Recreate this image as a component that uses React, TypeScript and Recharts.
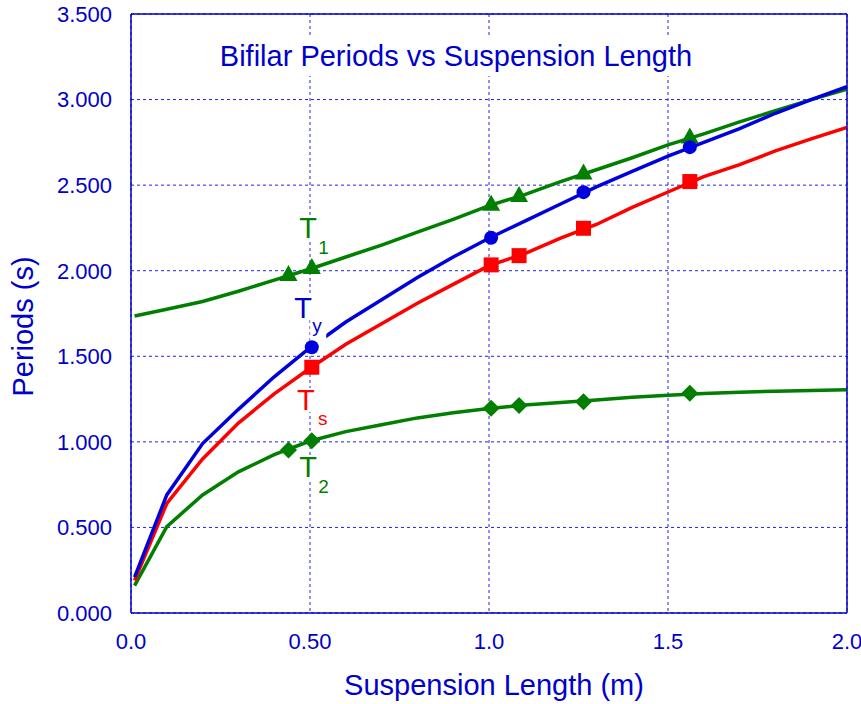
import React from 'react';
import {
  ComposedChart,
  Line,
  Scatter,
  XAxis,
  YAxis,
  CartesianGrid,
  ReferenceDot,
} from 'recharts';

// ---------- data ----------
const LINE_X = [0.01, 0.1, 0.2, 0.3, 0.4, 0.5, 0.6, 0.7, 0.8, 0.9, 1.0, 1.1, 1.2, 1.3, 1.4, 1.5, 1.6, 1.7, 1.8, 1.9, 2.0];
const TY_LINE = [0.21, 0.69, 0.99, 1.19, 1.38, 1.55, 1.70, 1.83, 1.96, 2.08, 2.19, 2.29, 2.39, 2.49, 2.58, 2.67, 2.75, 2.83, 2.92, 3.0, 3.076];
const TS_LINE = [0.19, 0.64, 0.90, 1.11, 1.28, 1.43, 1.57, 1.69, 1.81, 1.92, 2.03, 2.10, 2.19, 2.27, 2.37, 2.46, 2.55, 2.62, 2.70, 2.77, 2.837];
const T1_LINE = [1.735, 1.775, 1.82, 1.88, 1.945, 2.01, 2.08, 2.15, 2.225, 2.30, 2.38, 2.445, 2.52, 2.59, 2.66, 2.735, 2.80, 2.87, 2.935, 3.0, 3.06];
const T2_LINE = [0.16, 0.505, 0.69, 0.825, 0.925, 1.005, 1.06, 1.10, 1.14, 1.17, 1.195, 1.215, 1.23, 1.245, 1.26, 1.272, 1.283, 1.29, 1.296, 1.30, 1.305];

const MARK_X = [0.44, 0.505, 1.006, 1.084, 1.264, 1.561];
const T1_MARK = [1.975, 2.016, 2.385, 2.437, 2.568, 2.778];
const T2_MARK = [0.953, 1.007, 1.196, 1.212, 1.235, 1.284];
const TS_MARK_X = [0.505, 1.006, 1.084, 1.264, 1.561];
const TS_MARK = [1.436, 2.034, 2.088, 2.248, 2.521];
const TY_MARK_X = [0.505, 1.006, 1.264, 1.561];
const TY_MARK = [1.553, 2.193, 2.459, 2.722];

const X_TICKS = [0, 0.5, 1.0, 1.5, 2.0];
const X_TICK_LABELS = ['0.0', '0.50', '1.0', '1.5', '2.0'];
const X_MINOR_TICKS = [0, 0.1, 0.2, 0.3, 0.4, 0.5, 0.6, 0.7, 0.8, 0.9, 1.0, 1.1, 1.2, 1.3, 1.4, 1.5, 1.6, 1.7, 1.8, 1.9, 2.0];
const Y_TICKS = [0, 0.5, 1.0, 1.5, 2.0, 2.5, 3.0, 3.5];
const Y_TICK_LABELS = ['0.000', '0.500', '1.000', '1.500', '2.000', '2.500', '3.000', '3.500'];

const TITLE = 'Bifilar Periods vs Suspension Length';
const X_LABEL = 'Suspension Length (m)';
const Y_LABEL = 'Periods (s)';

const BLUE = '#0000CC';
const GRID_BLUE = '#2222DD';
const LINE_BLUE = '#0000DD';
const RED = '#FF0000';
const GREEN = '#007F00';
const FONT = '"Liberation Sans", Arial, Helvetica, sans-serif';

const SERIES_LABELS = [
  { main: 'T', sub: '1', x: 0.47, y: 2.19, color: GREEN, subDx: 19, subDy: 16, box: false },
  { main: 'T', sub: 'y', x: 0.456, y: 1.724, color: BLUE, subDx: 18, subDy: 14, box: true },
  { main: 'T', sub: 's', x: 0.464, y: 1.186, color: RED, subDx: 21, subDy: 15, box: false },
  { main: 'T', sub: '2', x: 0.47, y: 0.795, color: GREEN, subDx: 19, subDy: 16, box: false },
];

const zip = (xs: number[], ys: number[]) => xs.map((x, i) => ({ x, y: ys[i] }));

const tyLine = zip(LINE_X, TY_LINE);
const tsLine = zip(LINE_X, TS_LINE);
const t1Line = zip(LINE_X, T1_LINE);
const t2Line = zip(LINE_X, T2_LINE);
const t1Mark = zip(MARK_X, T1_MARK);
const t2Mark = zip(MARK_X, T2_MARK);
const tsMark = zip(TS_MARK_X, TS_MARK);
const tyMark = zip(TY_MARK_X, TY_MARK);

// ---------- marker shapes ----------
const CircleShape = (p: any) => <circle cx={p.cx} cy={p.cy} r={7} fill={LINE_BLUE} />;
const SquareShape = (p: any) => <rect x={p.cx - 7.5} y={p.cy - 7.5} width={15} height={15} fill={RED} />;
const TriangleShape = (p: any) => (
  <polygon points={`${p.cx},${p.cy - 10} ${p.cx + 9},${p.cy + 6} ${p.cx - 9},${p.cy + 6}`} fill={GREEN} />
);
const DiamondShape = (p: any) => (
  <polygon points={`${p.cx},${p.cy - 8.5} ${p.cx + 8.5},${p.cy} ${p.cx},${p.cy + 8.5} ${p.cx - 8.5},${p.cy}`} fill={GREEN} />
);

const makeLabelShape = (l: typeof SERIES_LABELS[number]) => (p: any) => (
  <g>
    <rect x={p.cx - 1} y={p.cy - 22} width={20} height={24} fill="#ffffff" />
    {l.box && (
      <rect x={p.cx + l.subDx - 2} y={p.cy + l.subDy - 13} width={16} height={25} fill="#ffffff" />
    )}
    <text x={p.cx} y={p.cy} fill={l.color} fontSize={29} fontFamily={FONT}>
      {l.main}
    </text>
    <text x={p.cx + l.subDx} y={p.cy + l.subDy} fill={l.color} fontSize={19} fontFamily={FONT}>
      {l.sub}
    </text>
  </g>
);

const YLabel = (props: any) => {
  const vb = props.viewBox || {};
  const cx = 33;
  const cy = (vb.y || 0) + (vb.height || 0) / 2 + 13;
  return (
    <text
      x={cx}
      y={cy}
      transform={`rotate(-90, ${cx}, ${cy})`}
      textAnchor="middle"
      fill={BLUE}
      fontSize={29}
      fontFamily={FONT}
    >
      {Y_LABEL}
    </text>
  );
};

export default function App() {
  return (
    <div style={{ position: 'absolute', left: 0, top: 0, width: 861, height: 704, background: '#fff' }}>
      <ComposedChart
        width={861}
        height={704}
        margin={{ top: 14, right: 14, bottom: 0, left: 0 }}
      >
        <CartesianGrid stroke={GRID_BLUE} strokeDasharray="3 3" strokeWidth={1} />
        <XAxis
          xAxisId={0}
          dataKey="x"
          type="number"
          domain={[0, 2]}
          allowDataOverflow
          ticks={X_TICKS}
          interval={0}
          tickFormatter={(v: number, i: number) => X_TICK_LABELS[i] ?? String(v)}
          height={91}
          tickLine={false}
          tickSize={0}
          tickMargin={20}
          axisLine={{ stroke: BLUE, strokeWidth: 1.5 }}
          tick={{ fill: BLUE, fontSize: 22, fontFamily: FONT }}
          label={{ value: X_LABEL, position: 'insideBottom', offset: 9, dx: 5, fill: BLUE, fontSize: 29, fontFamily: FONT }}
        />
        <XAxis
          xAxisId="minor"
          dataKey="x"
          type="number"
          orientation="bottom"
          mirror
          domain={[0, 2]}
          allowDataOverflow
          ticks={X_MINOR_TICKS}
          interval={0}
          tick={false}
          tickSize={6}
          tickLine={{ stroke: BLUE, strokeWidth: 1 }}
          axisLine={false}
        />
        <XAxis
          xAxisId="top"
          dataKey="x"
          type="number"
          orientation="top"
          mirror
          domain={[0, 2]}
          allowDataOverflow
          ticks={X_MINOR_TICKS}
          interval={0}
          tick={false}
          tickSize={6}
          tickLine={{ stroke: BLUE, strokeWidth: 1 }}
          axisLine={{ stroke: BLUE, strokeWidth: 1.5 }}
        />
        <YAxis
          yAxisId={0}
          dataKey="y"
          type="number"
          domain={[0, 3.5]}
          allowDataOverflow
          ticks={Y_TICKS}
          interval={0}
          tickFormatter={(v: number, i: number) => Y_TICK_LABELS[i] ?? String(v)}
          width={131}
          tickLine={false}
          tickSize={0}
          tickMargin={19}
          axisLine={{ stroke: BLUE, strokeWidth: 1.5 }}
          tick={{ fill: BLUE, fontSize: 22, fontFamily: FONT }}
          label={{ content: YLabel }}
        />
        <YAxis
          yAxisId="right"
          dataKey="y"
          type="number"
          orientation="right"
          mirror
          domain={[0, 3.5]}
          allowDataOverflow
          ticks={Y_TICKS}
          interval={0}
          tick={false}
          tickSize={8}
          tickLine={{ stroke: BLUE, strokeWidth: 1 }}
          axisLine={{ stroke: BLUE, strokeWidth: 1.5 }}
        />

        <Line data={t1Line} dataKey="y" type="linear" stroke={GREEN} strokeWidth={3.5} dot={false} isAnimationActive={false} />
        <Line data={t2Line} dataKey="y" type="linear" stroke={GREEN} strokeWidth={3.5} dot={false} isAnimationActive={false} />
        <Line data={tsLine} dataKey="y" type="linear" stroke={RED} strokeWidth={3.5} dot={false} isAnimationActive={false} />
        <Line data={tyLine} dataKey="y" type="linear" stroke={LINE_BLUE} strokeWidth={3.5} dot={false} isAnimationActive={false} />

        {SERIES_LABELS.map((l, i) => (
          <ReferenceDot key={i} x={l.x} y={l.y} r={0} shape={makeLabelShape(l)} />
        ))}

        <Scatter data={t1Mark} shape={TriangleShape} isAnimationActive={false} />
        <Scatter data={t2Mark} shape={DiamondShape} isAnimationActive={false} />
        <Scatter data={tsMark} shape={SquareShape} isAnimationActive={false} />
        <Scatter data={tyMark} shape={CircleShape} isAnimationActive={false} />
      </ComposedChart>
      <div
        style={{
          position: 'absolute',
          left: 199,
          top: 36,
          width: 514,
          height: 40,
          lineHeight: '40px',
          background: '#fff',
          color: BLUE,
          fontFamily: FONT,
          fontSize: 29,
          textAlign: 'center',
          whiteSpace: 'nowrap',
        }}
      >
        {TITLE}
      </div>
    </div>
  );
}
